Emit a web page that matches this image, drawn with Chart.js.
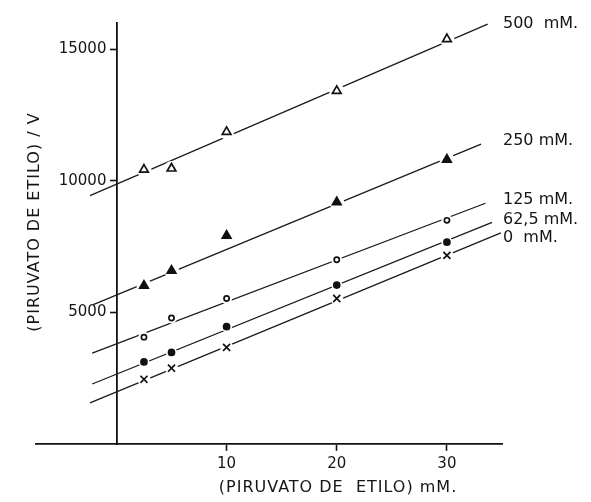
<!DOCTYPE html>
<html>
<head>
<meta charset="utf-8">
<script src="https://cdn.jsdelivr.net/npm/chart.js@4/dist/chart.umd.min.js"></script>
<style>
  html, body { margin: 0; padding: 0; background: #ffffff; }
  #wrap { width: 591px; height: 502px; position: relative; }
</style>
</head>
<body>
<div id="wrap"><canvas id="c" width="591" height="502"></canvas></div>
<script>
// ---- data ----
const xValues = [2.5, 5, 10, 20, 30];
const y500 = [10430, 10470, 11860, 13420, 15390];
const y250 = [6020, 6590, 7920, 9190, 10810];
const y125 = [4060, 4790, 5530, 7000, 8500];
const y62_5 = [3120, 3480, 4460, 6040, 7670];
const y0 = [2460, 2880, 3670, 5530, 7170];

// fitted straight lines: [start x, start y, end x, end y]
const fit500 = [-2.4, 9440, 33.7, 15960];
const fit250 = [-2.1, 5300, 33.1, 11400];
const fit125 = [-2.2, 3450, 33.5, 9150];
const fit62_5 = [-2.2, 2280, 34.1, 8420];
const fit0 = [-2.4, 1560, 34.9, 8020];

const seriesLabels = ['500  mM.', '250 mM.', '125 mM.', '62,5 mM.', '0  mM.'];
const xTickValues = [10, 20, 30];
const yTickValues = [5000, 10000, 15000];
const xTitle = '(PIRUVATO DE  ETILO) mM.';
const yTitle = '(PIRUVATO DE ETILO) / V';

// ---- build datasets ----
const seriesY = [y500, y250, y125, y62_5, y0];
const fits = [fit500, fit250, fit125, fit62_5, fit0];
const markerStyle = [
  {pointStyle: 'triangle', radius: 5.0, fill: '#ffffff', halo: 7.5},
  {pointStyle: 'triangle', radius: 5.0, fill: '#111111', halo: 7.5},
  {pointStyle: 'circle', radius: 2.6, fill: '#ffffff', halo: 5.5},
  {pointStyle: 'circle', radius: 3.0, fill: '#111111', halo: 5.5},
  {pointStyle: 'crossRot', radius: 5.0, fill: '#111111', halo: 6.5}
];
const labelDy = [0, -3, -3, -3, 5];

const toPts = ys => xValues.map((x, i) => ({x: x, y: ys[i]}));
const datasets = [];
fits.forEach((f, i) => {
  datasets.push({
    label: 'fit ' + seriesLabels[i],
    data: [{x: f[0], y: f[1]}, {x: f[2], y: f[3]}],
    showLine: true, borderColor: '#1a1a1a', borderWidth: 1.3,
    pointRadius: 0, order: 3
  });
});
seriesY.forEach((ys, i) => {
  datasets.push({
    label: 'halo ' + seriesLabels[i],
    data: toPts(ys), showLine: false,
    pointStyle: 'circle', pointRadius: markerStyle[i].halo,
    pointBackgroundColor: '#ffffff', pointBorderWidth: 0, pointBorderColor: '#ffffff',
    order: 2
  });
});
seriesY.forEach((ys, i) => {
  datasets.push({
    label: seriesLabels[i],
    data: toPts(ys), showLine: false,
    pointStyle: markerStyle[i].pointStyle, pointRadius: markerStyle[i].radius,
    pointBackgroundColor: markerStyle[i].fill, pointBorderColor: '#111111',
    pointBorderWidth: 1.7, order: 1
  });
});

// y-axis labels sit left of the tick marks (the axis is placed at x = 0)
const shiftYLabels = {
  id: 'shiftYLabels',
  beforeDraw(chart) {
    const items = chart.scales.y.getLabelItems();
    if (!items._shifted) {
      items.forEach(it => { it.options.translation[0] -= 10; });
      items._shifted = true;
    }
  }
};

const textPlugin = {
  id: 'textPlugin',
  afterDraw(chart) {
    const {ctx, scales: {x, y}} = chart;
    ctx.save();
    ctx.fillStyle = '#151515';
    ctx.textBaseline = 'middle';
    ctx.textAlign = 'left';
    ctx.font = '16px "DejaVu Sans"';
    fits.forEach((f, i) => {
      const px = chart.chartArea.right + 1;
      const py = y.getPixelForValue(f[3]) + labelDy[i];
      ctx.fillText(seriesLabels[i], px, py);
    });
    // axis titles
    ctx.font = '16px "DejaVu Sans"';
    try { ctx.letterSpacing = '1px'; } catch (e) {}
    ctx.textAlign = 'center';
    ctx.fillText(xTitle, 338, 488);
    ctx.translate(35, 222);
    ctx.rotate(-Math.PI / 2);
    ctx.fillText(yTitle, 0, 0);
    ctx.restore();
  }
};

const tickFont = {family: 'DejaVu Sans', size: 15};
new Chart(document.getElementById('c'), {
  type: 'scatter',
  data: {datasets: datasets},
  options: {
    responsive: false,
    animation: false,
    devicePixelRatio: 1,
    layout: {padding: {left: 36, right: 89, top: 23, bottom: 58}},
    plugins: {legend: {display: false}, tooltip: {enabled: false}},
    scales: {
      x: {
        type: 'linear', position: {y: 0}, min: -7.3, max: 35,
        afterBuildTicks: s => { s.ticks = xTickValues.map(v => ({value: v})); },
        grid: {drawOnChartArea: false, drawTicks: true, tickLength: 6, tickWidth: 1.6, tickColor: '#111'},
        border: {display: true, color: '#111', width: 1.8},
        ticks: {font: tickFont, color: '#151515', padding: 5, maxRotation: 0, autoSkip: false}
      },
      y: {
        type: 'linear', position: {x: 0}, min: 0, max: 16000,
        afterBuildTicks: s => { s.ticks = yTickValues.map(v => ({value: v})); },
        grid: {drawOnChartArea: false, drawTicks: true, tickLength: 6, tickWidth: 1.6, tickColor: '#111'},
        border: {display: true, color: '#111', width: 1.8},
        ticks: {font: tickFont, color: '#151515', padding: 3, autoSkip: false,
                callback: v => String(v)}
      }
    }
  },
  plugins: [shiftYLabels, textPlugin]
});
</script>
</body>
</html>
